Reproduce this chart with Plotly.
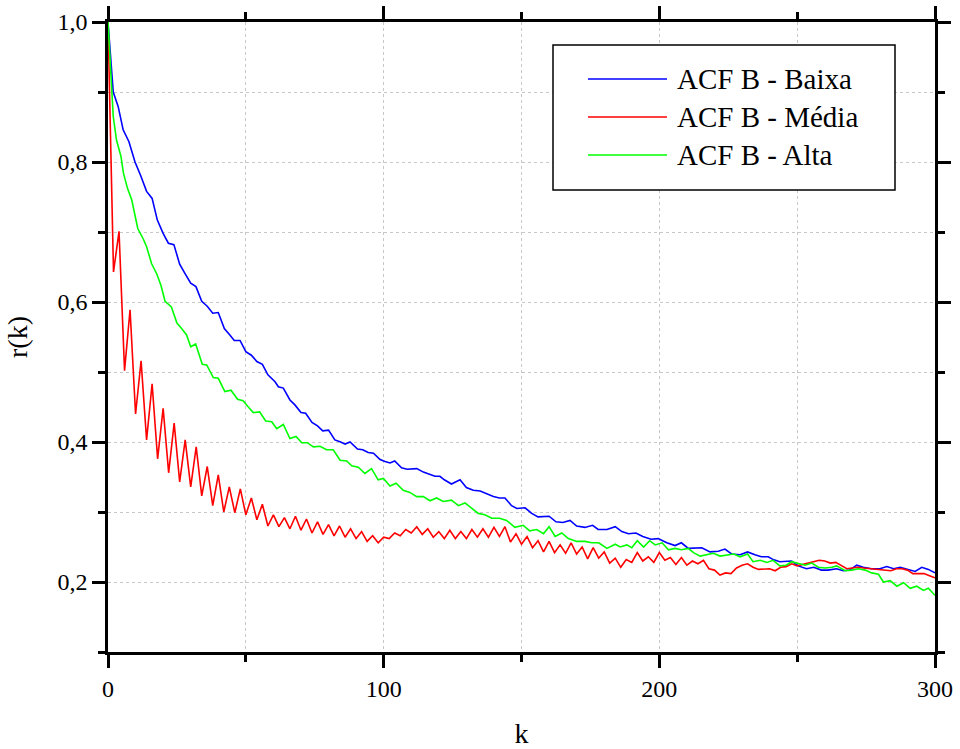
import plotly.graph_objects as go

# ---- data ----
K_RED = list(range(0, 301, 2))
R_MEDIA = [
    1.000, 0.643, 0.701, 0.502, 0.589, 0.440, 0.516, 0.403, 0.483, 0.376,
    0.448, 0.356, 0.427, 0.343, 0.403, 0.336, 0.393, 0.323, 0.365, 0.309,
    0.353, 0.300, 0.336, 0.299, 0.333, 0.296, 0.320, 0.289, 0.311, 0.280,
    0.296, 0.279, 0.292, 0.276, 0.294, 0.274, 0.290, 0.270, 0.286, 0.268,
    0.282, 0.266, 0.280, 0.264, 0.276, 0.262, 0.272, 0.258, 0.266, 0.256,
    0.264, 0.262, 0.270, 0.266, 0.275, 0.270, 0.279, 0.268, 0.276, 0.264,
    0.272, 0.262, 0.274, 0.262, 0.272, 0.262, 0.275, 0.264, 0.276, 0.264,
    0.278, 0.265, 0.279, 0.257, 0.269, 0.254, 0.265, 0.249, 0.259, 0.243,
    0.258, 0.242, 0.253, 0.241, 0.256, 0.240, 0.250, 0.233, 0.249, 0.234,
    0.243, 0.227, 0.234, 0.221, 0.232, 0.228, 0.242, 0.230, 0.236, 0.228,
    0.242, 0.231, 0.235, 0.225, 0.235, 0.224, 0.230, 0.226, 0.231, 0.219,
    0.217, 0.210, 0.213, 0.212, 0.220, 0.224, 0.226, 0.221, 0.218, 0.219,
    0.219, 0.216, 0.221, 0.222, 0.226, 0.223, 0.225, 0.228, 0.230, 0.231,
    0.230, 0.227, 0.228, 0.223, 0.219, 0.220, 0.221, 0.220, 0.219, 0.218,
    0.217, 0.216, 0.216, 0.219, 0.219, 0.217, 0.212, 0.212, 0.212, 0.209,
    0.206,
]

K_BAIXA = [
    0, 1.9, 3.7, 5.5, 7.6, 9.8, 11.8, 14, 16, 17.9, 20, 21.9, 23.9, 26, 27.9,
    30, 31.9, 34, 36, 38, 40, 42.2, 44.2, 45.8, 47.9, 50, 52, 54, 56, 58,
    60.6, 61.8, 63.6, 66, 67.8, 70, 71.7, 74, 76, 77.9, 80, 82.3, 84.4, 86,
    87.8, 90.5, 92.4, 94.4, 96.3, 98.7, 100.5, 102.3, 104, 106.5, 108.5,
    110.7, 112, 114.4, 116.8, 118.6, 120.4, 122, 124.6, 127.7, 130, 132.5,
    135, 137.4, 139.8, 142, 144, 146.4, 148.3, 151.3, 153.7, 156, 158, 160,
    162.5, 165, 167.6, 170, 173, 175.8, 177.8, 181, 184, 186.4, 188.8, 191.5,
    194, 197, 199.6, 202.7, 205.7, 208, 210.5, 213, 215.4, 218.4, 221.4,
    223.8, 226.2, 229.3, 232, 234.7, 237, 239.5, 241.3, 243.7, 246, 248,
    250.4, 253.4, 256, 258.8, 261.2, 264.3, 266.7, 269, 271.6, 274, 277, 280,
    282.5, 285, 287.4, 289.8, 292.8, 295.2, 297.6, 300,
]
R_BAIXA = [
    1.000, 0.900, 0.879, 0.846, 0.829, 0.800, 0.781, 0.758, 0.748, 0.717,
    0.698, 0.684, 0.682, 0.654, 0.641, 0.627, 0.622, 0.601, 0.594, 0.584,
    0.585, 0.562, 0.553, 0.545, 0.545, 0.529, 0.524, 0.515, 0.511, 0.496,
    0.486, 0.479, 0.477, 0.460, 0.453, 0.442, 0.441, 0.428, 0.423, 0.416,
    0.417, 0.403, 0.400, 0.397, 0.400, 0.390, 0.389, 0.385, 0.384, 0.375,
    0.372, 0.370, 0.373, 0.363, 0.361, 0.361, 0.362, 0.357, 0.354, 0.351,
    0.351, 0.346, 0.340, 0.346, 0.335, 0.331, 0.330, 0.326, 0.322, 0.320,
    0.320, 0.309, 0.305, 0.306, 0.298, 0.293, 0.293, 0.294, 0.286, 0.285,
    0.288, 0.280, 0.278, 0.281, 0.275, 0.275, 0.279, 0.272, 0.269, 0.270,
    0.265, 0.261, 0.262, 0.256, 0.252, 0.256, 0.248, 0.248, 0.249, 0.243,
    0.244, 0.247, 0.240, 0.239, 0.243, 0.239, 0.236, 0.236, 0.232, 0.229,
    0.229, 0.230, 0.223, 0.219, 0.221, 0.217, 0.217, 0.219, 0.216, 0.217,
    0.224, 0.221, 0.219, 0.219, 0.222, 0.219, 0.221, 0.218, 0.215, 0.221,
    0.218, 0.213,
]

K_ALTA = [
    0, 1.3, 1.9, 3.1, 4.7, 5.6, 7.1, 8.6, 10.8, 12.8, 14, 15.8, 17.7, 19.2,
    20.7, 23, 25, 26.7, 28.5, 30, 31.8, 34.2, 35.8, 38.2, 40, 42.4, 44.6, 47,
    49, 50.9, 52.7, 55, 57.2, 59.4, 61.2, 63.6, 66, 68.2, 70.3, 72.3, 74.5,
    76.9, 79.3, 81.7, 84.2, 86.6, 88.4, 90.8, 93.2, 95.6, 98, 99.9, 102.3,
    104.5, 107.1, 109.5, 112, 114.4, 116.8, 119.2, 121.6, 124.6, 127.1,
    129.5, 132, 134.3, 136.7, 139.2, 142, 144.6, 147.6, 150.6, 153, 155.5,
    158, 160, 162.2, 164.6, 167, 170, 173, 175.5, 178, 181, 184, 185.8,
    188.2, 190, 192, 194.3, 196.5, 198.5, 201, 203.3, 205.7, 208, 210.5,
    212.4, 214.8, 217.2, 219.6, 222, 224.5, 227, 229.3, 232, 234, 236.6, 239,
    241.3, 243.7, 246, 248, 250.4, 252.9, 255.3, 257.7, 260.1, 262.6, 264.3,
    267.4, 269.8, 272.2, 274.7, 277, 279.5, 281.3, 283.7, 286.2, 288.6, 291,
    293.4, 295.8, 297.6, 300,
]
R_ALTA = [
    1.000, 0.908, 0.865, 0.831, 0.808, 0.784, 0.762, 0.746, 0.705, 0.690,
    0.679, 0.655, 0.640, 0.624, 0.601, 0.593, 0.570, 0.562, 0.553, 0.536,
    0.540, 0.511, 0.510, 0.492, 0.491, 0.472, 0.474, 0.461, 0.459, 0.450,
    0.442, 0.443, 0.430, 0.429, 0.419, 0.425, 0.405, 0.408, 0.399, 0.399,
    0.393, 0.394, 0.389, 0.389, 0.374, 0.373, 0.366, 0.364, 0.355, 0.362,
    0.346, 0.348, 0.337, 0.341, 0.331, 0.328, 0.322, 0.322, 0.316, 0.320,
    0.315, 0.317, 0.309, 0.313, 0.305, 0.298, 0.296, 0.291, 0.291, 0.288,
    0.278, 0.281, 0.273, 0.275, 0.269, 0.279, 0.265, 0.270, 0.262, 0.258,
    0.258, 0.256, 0.256, 0.248, 0.254, 0.250, 0.253, 0.249, 0.259, 0.250,
    0.259, 0.253, 0.256, 0.246, 0.248, 0.246, 0.248, 0.242, 0.237, 0.239,
    0.241, 0.237, 0.239, 0.240, 0.236, 0.240, 0.229, 0.231, 0.228, 0.231,
    0.223, 0.224, 0.229, 0.226, 0.224, 0.227, 0.221, 0.220, 0.221, 0.223,
    0.216, 0.217, 0.219, 0.217, 0.213, 0.211, 0.200, 0.202, 0.194, 0.199,
    0.191, 0.194, 0.188, 0.191, 0.181,
]

SERIES_NAMES = ["ACF B - Baixa", "ACF B - Média", "ACF B - Alta"]
SERIES_COLORS = ["#0000FF", "#FF0000", "#00FF00"]
X_TICKS = [0, 100, 200, 300]
X_TICK_TEXT = ["0", "100", "200", "300"]
Y_TICKS = [0.2, 0.4, 0.6, 0.8, 1.0]
Y_TICK_TEXT = ["0,2", "0,4", "0,6", "0,8", "1,0"]

FONT = "Liberation Serif"

# plot-area geometry in pixels (figure 960x749)
L, R, T, B = 108, 935, 22, 652
PW, PH = R - L, B - T


def px(xp):
    return (xp - L) / PW


def py(yp):
    return (B - yp) / PH


fig = go.Figure()
for kx, ry, name, col in [(K_BAIXA, R_BAIXA, SERIES_NAMES[0], SERIES_COLORS[0]),
                          (K_RED, R_MEDIA, SERIES_NAMES[1], SERIES_COLORS[1]),
                          (K_ALTA, R_ALTA, SERIES_NAMES[2], SERIES_COLORS[2])]:
    fig.add_trace(go.Scatter(x=kx, y=ry, mode="lines", name=name,
                             line=dict(color=col, width=1.6), showlegend=False))

axis_common = dict(
    showline=True, linecolor="black", linewidth=2.5, mirror="allticks",
    ticks="outside", ticklen=13, tickwidth=2.5, tickcolor="black",
    showgrid=True, gridcolor="#c8c8c8", griddash="dot", gridwidth=1,
    zeroline=False, automargin=False,
    tickfont=dict(family=FONT, size=24, color="black"),
)

# legend box drawn in paper space
shapes = [dict(type="rect", xref="paper", yref="paper",
               x0=px(553), x1=px(895), y0=py(190), y1=py(45),
               line=dict(color="black", width=1.5), fillcolor="white", layer="above")]
annotations = []
for i, (name, col) in enumerate(zip(SERIES_NAMES, SERIES_COLORS)):
    yc = 79 + 38 * i
    shapes.append(dict(type="line", xref="paper", yref="paper",
                       x0=px(588), x1=px(667), y0=py(yc), y1=py(yc),
                       line=dict(color=col, width=1.6), layer="above"))
    annotations.append(dict(xref="paper", yref="paper", x=px(675), y=py(yc),
                            xanchor="left", yanchor="middle", showarrow=False,
                            text=name, font=dict(family=FONT, size=29, color="black")))

fig.update_layout(
    width=960, height=749,
    margin=dict(l=L, r=960 - R, t=T, b=749 - B),
    paper_bgcolor="white", plot_bgcolor="white",
    font=dict(family=FONT, color="black"),
    xaxis=dict(
        **axis_common,
        range=[0, 300],
        tickvals=X_TICKS, ticktext=X_TICK_TEXT,
        minor=dict(tickvals=[50, 150, 250], ticklen=7, tickwidth=2.5,
                   tickcolor="black", ticks="outside", showgrid=True,
                   gridcolor="#c8c8c8", griddash="dot", gridwidth=1),
        title=dict(text="k", font=dict(family=FONT, size=28), standoff=30),
    ),
    yaxis=dict(
        **axis_common,
        range=[0.1, 1.0],
        tickvals=Y_TICKS, ticktext=Y_TICK_TEXT,
        minor=dict(tickvals=[0.1, 0.3, 0.5, 0.7, 0.9], ticklen=7, tickwidth=2.5,
                   tickcolor="black", ticks="outside", showgrid=True,
                   gridcolor="#c8c8c8", griddash="dot", gridwidth=1),
        title=dict(text="r(k)", font=dict(family=FONT, size=28), standoff=22),
    ),
    shapes=shapes,
    annotations=annotations,
    showlegend=False,
)

fig.write_html("out.html")
